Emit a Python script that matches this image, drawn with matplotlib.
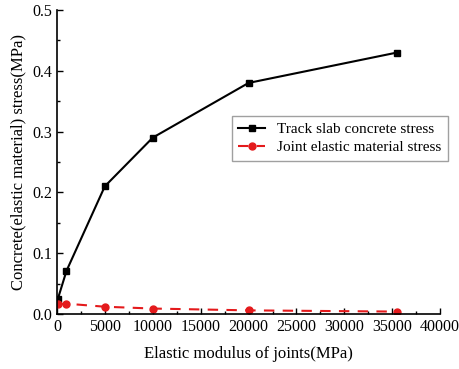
import matplotlib
matplotlib.use('Agg')
import matplotlib.pyplot as plt
from matplotlib.ticker import MultipleLocator

plt.rcParams['font.family'] = ['Liberation Serif', 'DejaVu Serif']

modulus = [100, 1000, 5000, 10000, 20000, 35500]
slab_stress = [0.025, 0.071, 0.21, 0.29, 0.38, 0.43]
joint_stress = [0.016, 0.017, 0.012, 0.009, 0.006, 0.004]

fig = plt.figure(figsize=(4.59, 3.69), dpi=100)
ax = fig.add_axes([0.124, 0.149, 0.835, 0.824])

ax.plot(modulus, slab_stress, '-s', color='black', lw=1.5, ms=5,
        label='Track slab concrete stress')
ax.plot(modulus, joint_stress, '--o', color='#e41a1c', lw=1.5, ms=5,
        dashes=(5, 4), label='Joint elastic material stress')

ax.set_xlim(0, 40000)
ax.set_ylim(0, 0.5)
ax.xaxis.set_major_locator(MultipleLocator(5000))
ax.xaxis.set_minor_locator(MultipleLocator(2500))
ax.yaxis.set_major_locator(MultipleLocator(0.1))
ax.yaxis.set_minor_locator(MultipleLocator(0.05))
ax.tick_params(direction='in', which='both', labelsize=11.5, width=1)
ax.tick_params(which='major', length=4)
ax.tick_params(which='minor', length=2.5)
ax.spines['top'].set_visible(False)
ax.spines['right'].set_visible(False)
ax.spines['left'].set_linewidth(1.2)
ax.spines['bottom'].set_linewidth(1.2)

ax.set_xlabel('Elastic modulus of joints(MPa)', fontsize=12, labelpad=8)
ax.set_ylabel('Concrete(elastic material) stress(MPa)', fontsize=12)

ax.legend(loc='upper right', bbox_to_anchor=(1.02, 0.65), fontsize=11,
          fancybox=False, edgecolor='#888888', handlelength=1.8,
          borderpad=0.4, labelspacing=0.3, borderaxespad=0)

fig.savefig('out.png', dpi=100)
